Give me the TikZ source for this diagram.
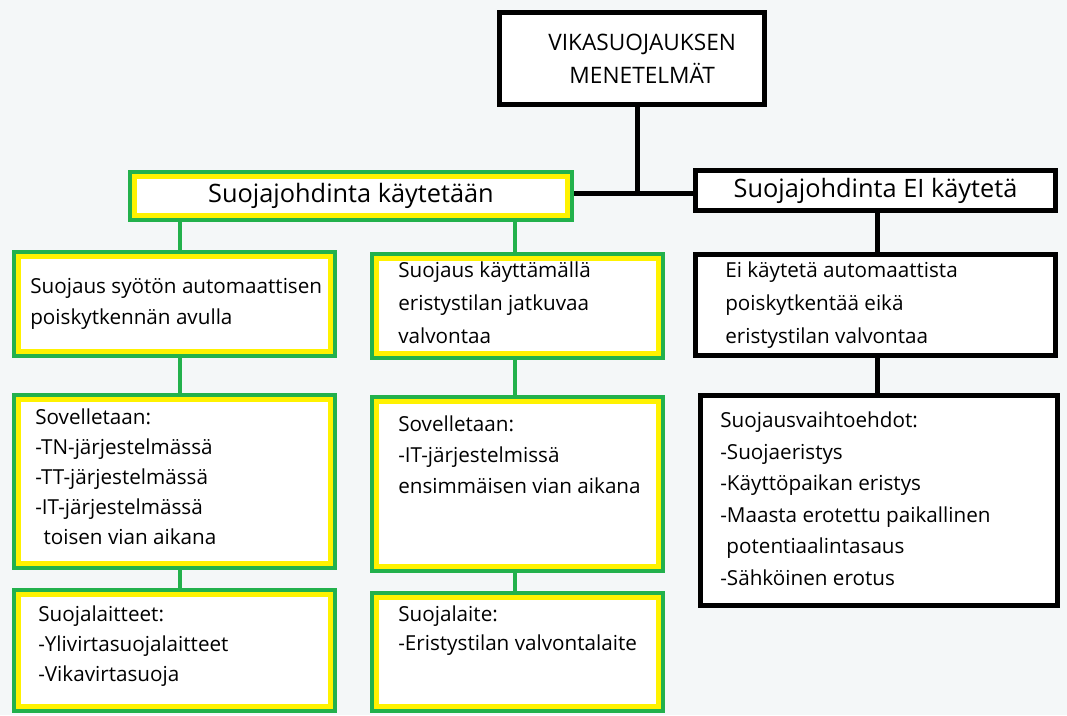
\documentclass[tikz,border=0pt]{standalone}
\usepackage{fontspec}
\setmainfont{Open Sans}
\usetikzlibrary{positioning}
\definecolor{paintgreen}{HTML}{22B14C}
\definecolor{paintyellow}{HTML}{FFF200}
\definecolor{paperbg}{HTML}{F4F7F8}
\tikzset{
  gbox/.style={
    rectangle, draw=paintgreen, fill=white, line width=3pt,
    path picture={\draw[paintyellow, line width=10.5pt]
      (path picture bounding box.south west) rectangle
      (path picture bounding box.north east);}
  },
  kbox/.style={rectangle, draw=black, fill=white, line width=3.75pt},
  txt/.style={inner sep=0pt, align=left, anchor=north west,
    font=\fontsize{15.5}{23.25}\selectfont},
  head/.style={font=\fontsize{19}{22}\selectfont},
  glink/.style={draw=paintgreen, line width=3pt},
  klink/.style={draw=black, line width=3.75pt}
}
\begin{document}
\begin{tikzpicture}[x=0.75pt, y=-0.75pt]
  \fill[paperbg] (0,0) rectangle (1067,715);
  \useasboundingbox (0,0) rectangle (1067,715);
  % column positions
  \coordinate (colL) at (180,0);
  \coordinate (colM) at (515,0);
  \coordinate (colR) at (877,0);
  \coordinate (j) at (637,193);
  % top level
  \node[kbox, minimum width=198.75pt, minimum height=69pt, align=center,
        font=\fontsize{17}{24.75}\selectfont] (root) at (632,58.5)
    {\hspace*{0.9em}\raisebox{-2.25pt}{VIKASUOJAUKSEN}\\
     \hspace*{0.9em}\raisebox{-2.25pt}{MENETELMÄT}};
  \node[gbox, head, minimum width=331.5pt, minimum height=36pt] (hL)
    at (351,196) {Suojajohdinta käytetään};
  \node[kbox, head, minimum width=270pt, minimum height=30pt] (hR)
    at (875.5,190.5) {Suojajohdinta EI käytetä};
  % boxes
  \node[gbox, minimum width=240.75pt, minimum height=78pt] (lA) at (174.5,304) {};
  \node[gbox, minimum width=240.75pt, minimum height=129.75pt] (lB) at (174.5,481.5) {};
  \node[gbox, minimum width=240.75pt, minimum height=90.75pt] (lC) at (174.5,650.5) {};
  \node[gbox, minimum width=218.25pt, minimum height=78pt] (mA) at (517.5,306) {};
  \node[gbox, minimum width=218.25pt, minimum height=130.5pt] (mB) at (517.5,484) {};
  \node[gbox, minimum width=218.25pt, minimum height=88.5pt] (mC) at (517.5,652) {};
  \node[kbox, minimum width=270pt, minimum height=75.75pt] (rA) at (875.5,305) {};
  \node[kbox, minimum width=267.75pt, minimum height=157.5pt] (rB) at (879,500.5) {};
  % texts
  \node[txt] (lAtext) at (30,278)
    {Suojaus syötön automaattisen\\poiskytkennän avulla};
  \node[txt, font=\fontsize{15.5}{24.75}\selectfont] (mAtext) at (398,262)
    {Suojaus käyttämällä\\eristystilan jatkuvaa\\valvontaa};
  \node[txt, font=\fontsize{15.5}{24.75}\selectfont] (rAtext) at (725,262)
    {Ei käytetä automaattista\\poiskytkentää eikä\\eristystilan valvontaa};
  \node[txt, font=\fontsize{15.5}{22.5}\selectfont] (lBtext) at (35,409)
    {Sovelletaan:\\-TN-järjestelmässä\\-TT-järjestelmässä\\-IT-järjestelmässä\\\hspace*{0.4em}toisen vian aikana};
  \node[txt, font=\fontsize{15.5}{22.5}\selectfont] (lCtext) at (38,606)
    {Suojalaitteet:\\-Ylivirtasuojalaitteet\\-Vikavirtasuoja};
  \node[txt] (mBtext) at (398,416)
    {Sovelletaan:\\-IT-järjestelmissä\\ensimmäisen vian aikana};
  \node[txt, font=\fontsize{15.5}{21.5}\selectfont] (mCtext) at (398,606)
    {Suojalaite:\\-Eristystilan valvontalaite};
  \node[txt, font=\fontsize{15.5}{23.6}\selectfont] (rBtext) at (720,412)
    {Suojausvaihtoehdot:\\-Suojaeristys\\-Käyttöpaikan eristys\\-Maasta erotettu paikallinen\\\hspace*{0.3em}potentiaalintasaus\\-Sähköinen erotus};
  % connectors
  \draw[klink] (root.south -| j) -- (j);
  \draw[klink] (hL.east |- j) -- (hR.west |- j);
  \draw[glink] (hL.south -| colL) -- (lA.north -| colL);
  \draw[glink] (lA.south -| colL) -- (lB.north -| colL);
  \draw[glink] (lB.south -| colL) -- (lC.north -| colL);
  \draw[glink] (hL.south -| colM) -- (mA.north -| colM);
  \draw[glink] (mA.south -| colM) -- (mB.north -| colM);
  \draw[glink] (mB.south -| colM) -- (mC.north -| colM);
  \draw[klink] (hR.south -| colR) -- (rA.north -| colR);
  \draw[klink] (rA.south -| colR) -- (rB.north -| colR);
\end{tikzpicture}
\end{document}
